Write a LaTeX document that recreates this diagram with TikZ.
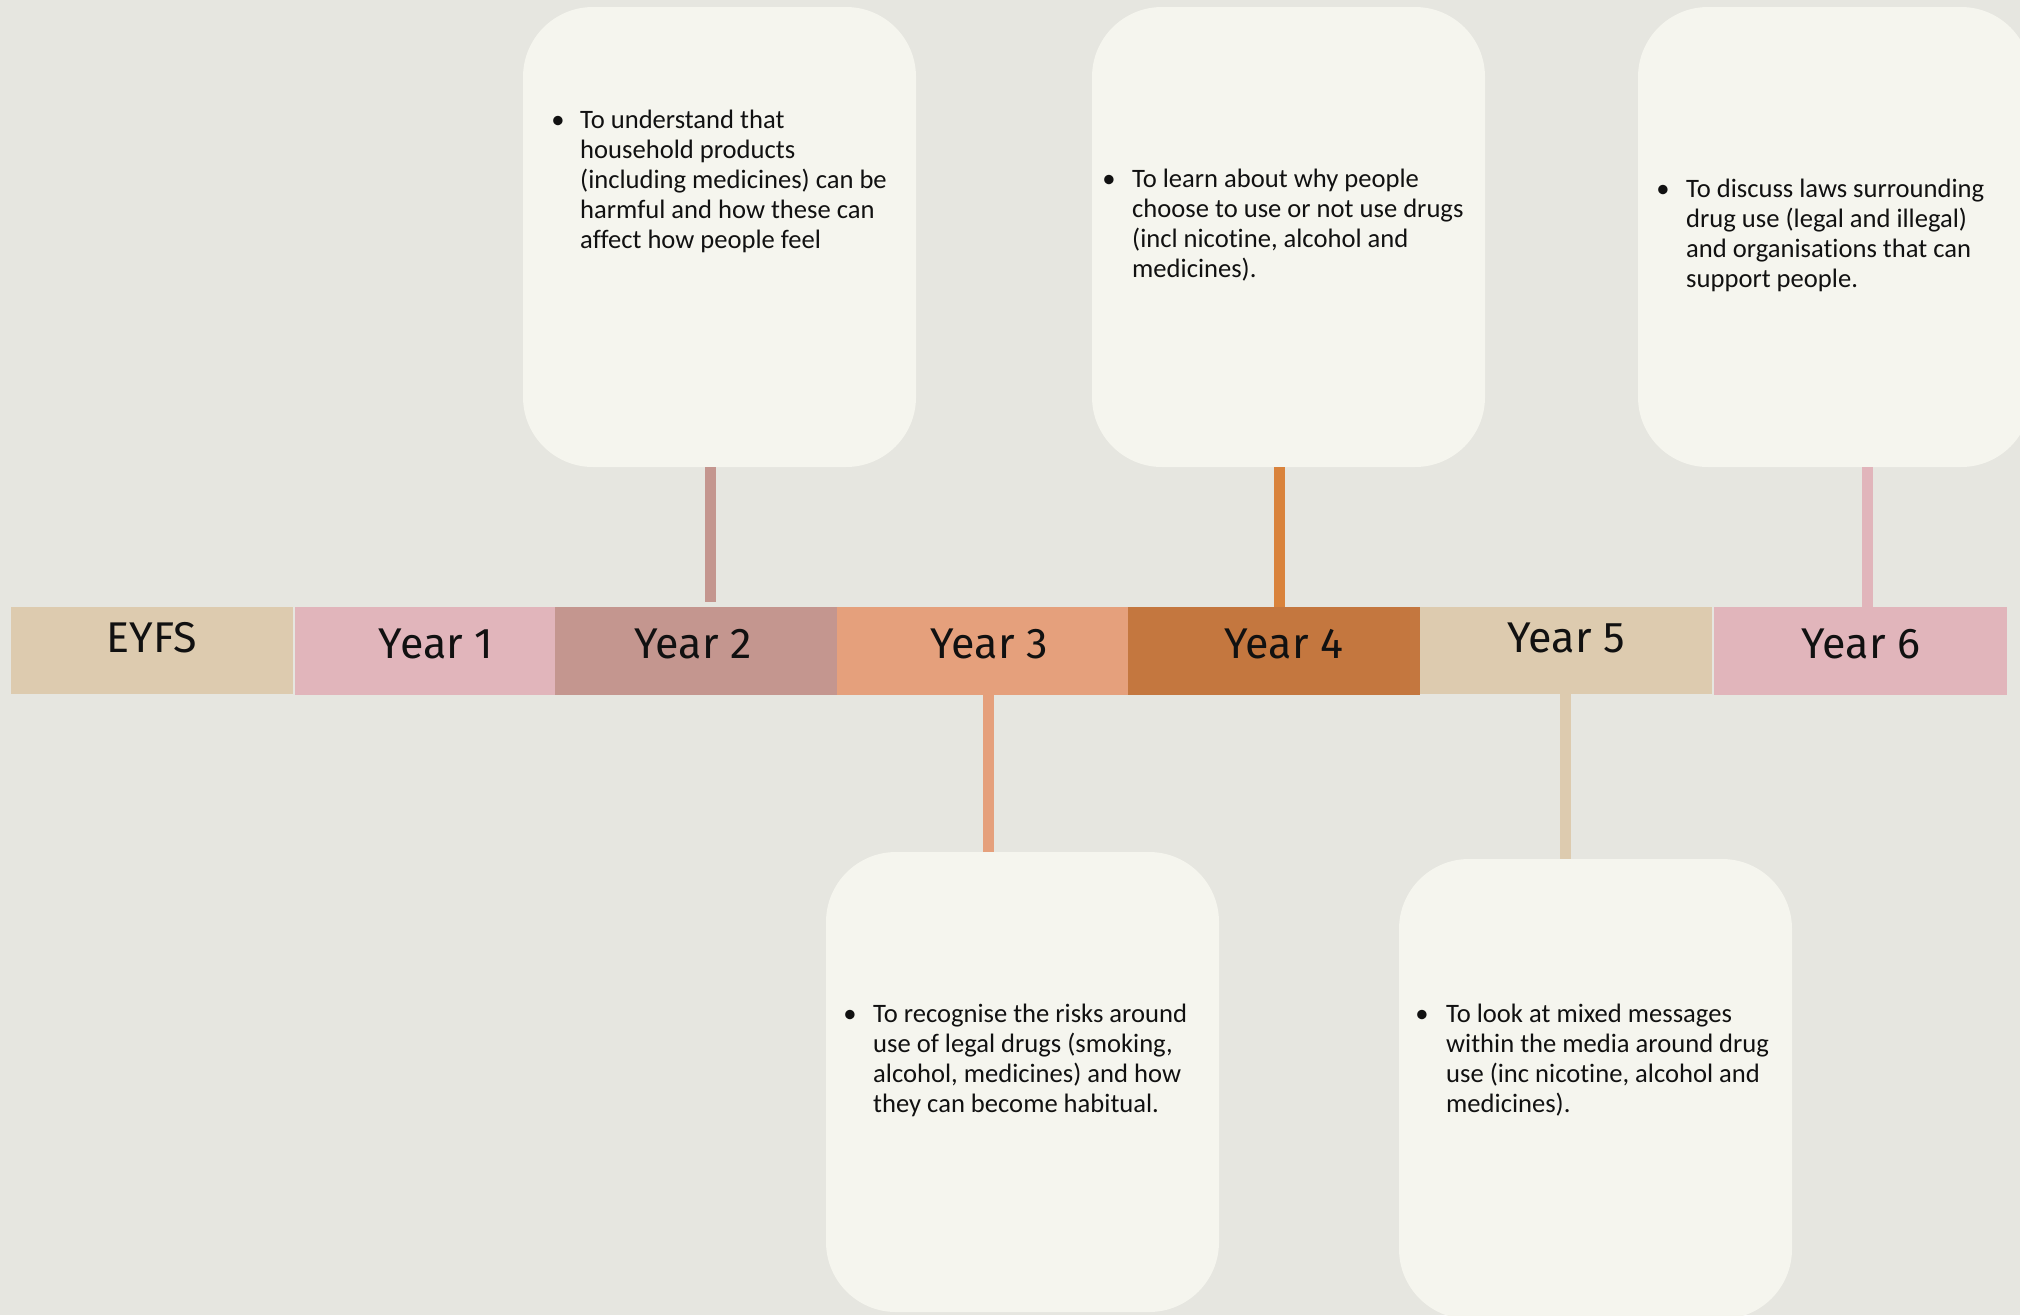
\documentclass[tikz,border=0pt]{standalone}
\usepackage{fontspec}
\setmainfont[Ligatures=NoCommon]{Carlito}
\newfontfamily\barfont{Fira Sans}
\definecolor{bgc}{HTML}{E6E6E0}
\definecolor{boxc}{HTML}{F5F5EE}
\definecolor{tanc}{HTML}{DDCBAF}
\definecolor{pinkc}{HTML}{E1B5BB}
\definecolor{rosec}{HTML}{C4968F}
\definecolor{salmc}{HTML}{E5A07C}
\definecolor{burntc}{HTML}{C4773F}
\definecolor{orngc}{HTML}{D9833C}
\definecolor{inkc}{HTML}{111111}
\begin{document}
\begin{tikzpicture}[x=1pt,y=-1pt,
  seg/.style={rectangle, inner sep=0pt, outer sep=0pt, minimum height=88pt},
  card/.style={rectangle, fill=boxc, rounded corners=70pt, inner sep=0pt, outer sep=0pt, minimum width=393pt, minimum height=460pt},
  yrlabel/.style={anchor=base, inner sep=0pt, text=inkc, font=\barfont\fontsize{43}{50}\selectfont},
  bodytext/.style={anchor=north west, inner sep=0pt, align=left, text=inkc, font=\fontsize{26.6}{30}\selectfont},
  bul/.style={anchor=base, inner sep=0pt, text=inkc, font=\fontsize{26.6}{30}\selectfont},
  conn/.style={line width=11pt}
]
\useasboundingbox (0,0) rectangle (2020,1315);
\clip (0,0) rectangle (2020,1315);
\fill[bgc] (0,0) rectangle (2020,1315);

% timeline bar
\node[seg, fill=tanc, minimum width=282pt, minimum height=87pt] (y0) at (152,650.5) {};
\node[seg, fill=pinkc, minimum width=260pt] (y1) at (425,651) {};
\node[seg, fill=rosec, minimum width=282pt] (y2) at (696,651) {};
\node[seg, fill=salmc, minimum width=291pt] (y3) at (982.5,651) {};
\node[seg, fill=burntc, minimum width=292pt] (y4) at (1274,651) {};
\node[seg, fill=tanc, minimum width=292pt, minimum height=87pt] (y5) at (1566,650.5) {};
\node[seg, fill=pinkc, minimum width=293pt] (y6) at (1860.5,651) {};

\node[yrlabel] (l0) at (152,652) {EYFS};
\node[yrlabel] (l1) at (436,658) {Year 1};
\node[yrlabel] (l2) at (693,658) {Year 2};
\node[yrlabel] (l3) at (989,658) {Year 3};
\node[yrlabel] (l4) at (1284,658) {Year 4};
\node[yrlabel] (l5) at (1566,652) {Year 5};
\node[yrlabel] (l6) at (1861,658) {Year 6};

% cards
\node[card] (b2) at (719.5,237) {};
\node[card] (b4) at (1288.5,237) {};
\node[card] (b6) at (1834.5,237) {};
\node[card] (b3) at (1022.5,1082) {};
\node[card] (b5) at (1595.5,1089) {};

% connectors
\coordinate (k2) at (710,0);
\coordinate (k4) at (1279.5,0);
\coordinate (k6) at (1867.5,0);
\coordinate (k3) at (988.5,0);
\coordinate (k5) at (1565.5,0);
\draw[conn, rosec, shorten >=5pt] (b2.south -| k2) -- (y2.north -| k2);
\draw[conn, orngc] (b4.south -| k4) -- (y4.north -| k4);
\draw[conn, pinkc] (b6.south -| k6) -- (y6.north -| k6);
\draw[conn, salmc] (y3.south -| k3) -- (b3.north -| k3);
\draw[conn, tanc] (y5.south -| k5) -- (b5.north -| k5);

% card texts
\node[bul] (u2) at (558,128) {•};
\node[bodytext] (t2) at (580,107) {\strut To understand that\\ household products\\ (including medicines) can be\\ harmful and how these can\\ affect how people feel};

\node[bul] (u4) at (1109,187) {•};
\node[bodytext] (t4) at (1132,166) {\strut To learn about why people\\ choose to use or not use drugs\\ (incl nicotine, alcohol and\\ medicines).};

\node[bul] (u6) at (1663,197) {•};
\node[bodytext] (t6) at (1686,176) {\strut To discuss laws surrounding\\ drug use (legal and illegal)\\ and organisations that can\\ support people.};

\node[bul] (u3) at (850,1022) {•};
\node[bodytext] (t3) at (873,1001) {\strut To recognise the risks around\\ use of legal drugs (smoking,\\ alcohol, medicines) and how\\ they can become habitual.};

\node[bul] (u5) at (1422,1022) {•};
\node[bodytext] (t5) at (1446,1001) {\strut To look at mixed messages\\ within the media around drug\\ use (inc nicotine, alcohol and\\ medicines).};
\end{tikzpicture}
\end{document}
